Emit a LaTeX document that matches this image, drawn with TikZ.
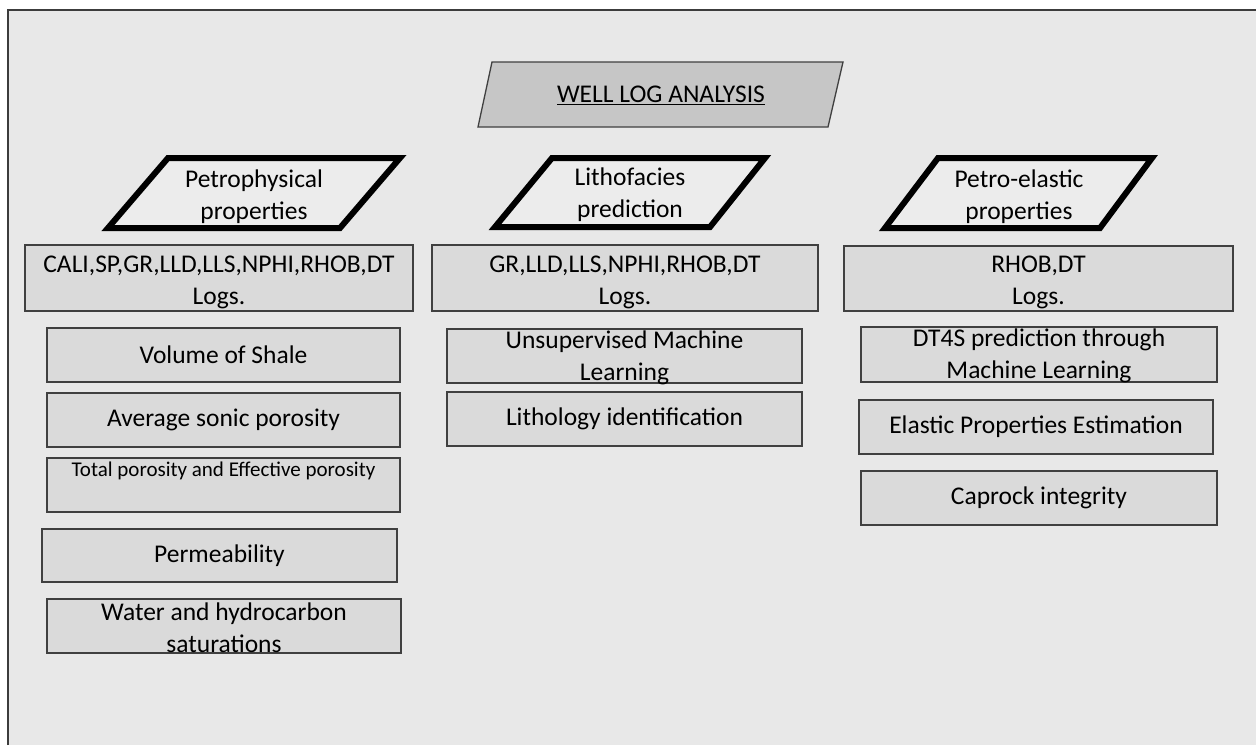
\documentclass[tikz,border=0pt]{standalone}
\usepackage{fontspec}
\setmainfont{Carlito}
\definecolor{panel}{HTML}{E8E8E8}
\definecolor{frameline}{HTML}{3C3C3C}
\definecolor{boxfill}{HTML}{DADADA}
\definecolor{boxline}{HTML}{404040}
\definecolor{titlefill}{HTML}{C6C6C6}
\definecolor{parafill}{HTML}{ECECEC}
\begin{document}
\begin{tikzpicture}[x=1pt,y=-1pt,
  txt/.style={font=\fontsize{25.5}{32}\selectfont, align=center, inner sep=0pt},
  box/.style={txt, draw=boxline, line width=1.3pt, fill=boxfill},
  boldpara/.style={draw=black, line width=6pt, line join=miter, fill=parafill},
  titlepara/.style={draw=boxline, line width=1.3pt, fill=titlefill}]
\useasboundingbox (0,0) rectangle (1256,745);
% page and panel
\fill[white] (0,0) rectangle (1256,745);
\fill[panel] (8,10) rectangle (1256,745);
\draw[frameline, line width=2pt] (8,745) -- (8,10) -- (1256,10);

% title
\draw[titlepara] (478,127) -- (492,62) -- (843,62) -- (828,127) -- cycle;
\node[txt] (title) at (661,95) {\underline{WELL LOG ANALYSIS}};

% column headings
\draw[boldpara] (108,228) -- (168,158) -- (400,158) -- (340,228) -- cycle;
\node[txt] (petro) at (254,197) {Petrophysical\\properties};
\draw[boldpara] (495,227) -- (552,158) -- (765,158) -- (710,227) -- cycle;
\node[txt] (litho) at (630,195) {Lithofacies\\prediction};
\draw[boldpara] (885,228) -- (938,158) -- (1152,158) -- (1100,228) -- cycle;
\node[txt] (elastic) at (1019,197) {Petro-elastic\\properties};

% petrophysical column
\node[box, minimum width=388pt, minimum height=66pt,
  label={[txt, yshift=-4pt]center:{CALI,SP,GR,LLD,LLS,NPHI,RHOB,DT\\Logs.}}] (logsL) at (219,278) {};
\node[box, minimum width=353pt, minimum height=54pt] (vsh) at (223.5,355) {Volume of Shale};
\node[box, minimum width=353pt, minimum height=54pt] (asp) at (223.5,420) {Average sonic porosity};
\node[box, minimum width=353pt, minimum height=54pt] (tpor) at (223.5,485) {};
\node[txt, font=\fontsize{21}{25}\selectfont, anchor=north] (tportext) at ([yshift=-4pt]tpor.north) {Total porosity and Effective porosity};
\node[box, minimum width=355pt, minimum height=53pt] (perm) at (219.5,555.5) {Permeability};
\node[box, minimum width=354pt, minimum height=54pt,
  label={[txt, yshift=-2pt]center:{Water and hydrocarbon\\saturations}}] (sat) at (224,626) {};

% lithofacies column
\node[box, minimum width=386pt, minimum height=66pt,
  label={[txt, yshift=-4pt]center:{GR,LLD,LLS,NPHI,RHOB,DT\\Logs.}}] (logsM) at (625,278) {};
\node[box, minimum width=355pt, minimum height=54pt,
  label={[txt, yshift=-2pt]center:{Unsupervised Machine\\Learning}}] (uml) at (624.5,356) {};
\node[box, minimum width=355pt, minimum height=54pt] (lith) at (624.5,419) {Lithology identification};

% petro-elastic column
\node[box, minimum width=389pt, minimum height=65pt,
  label={[txt, yshift=-4pt]center:{RHOB,DT\\Logs.}}] (logsR) at (1038.5,278.5) {};
\node[box, minimum width=356pt, minimum height=55pt,
  label={[txt, yshift=-1pt]center:{DT4S prediction through\\Machine Learning}}] (dts) at (1039,354.5) {};
\node[box, minimum width=354pt, minimum height=54pt] (eps) at (1036,427) {Elastic Properties Estimation};
\node[box, minimum width=356pt, minimum height=54pt] (cap) at (1039,498) {Caprock integrity};
\end{tikzpicture}
\end{document}
